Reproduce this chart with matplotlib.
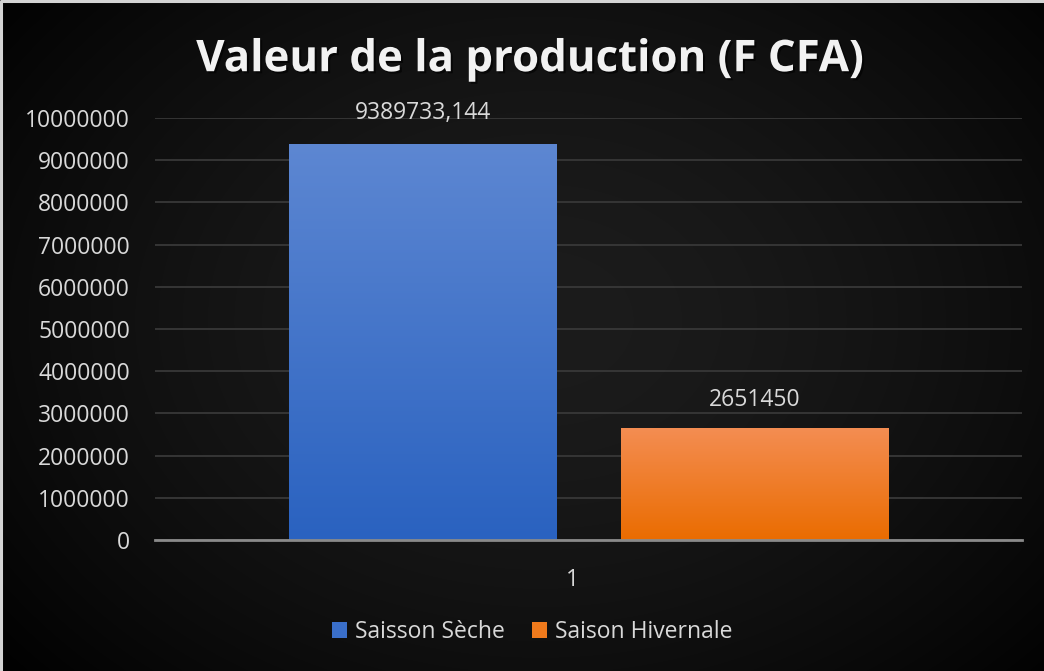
import numpy as np
import matplotlib
matplotlib.use("Agg")
import matplotlib.pyplot as plt
import matplotlib.patheffects as pe
from matplotlib.colors import LinearSegmentedColormap
from matplotlib.transforms import ScaledTranslation

# data
categories = ["1"]
series_names = ["Saisson Sèche", "Saison Hivernale"]
values = [9389733.144, 2651450]
value_labels = ["9389733,144", "2651450"]
y_ticks = [0, 1000000, 2000000, 3000000, 4000000, 5000000,
           6000000, 7000000, 8000000, 9000000, 10000000]

grad_colors = [("#2a62c0", "#5d87d2"), ("#ea6c00", "#f48d52")]
flat_colors = ["#3a6fca", "#f07a1c"]
label_offsets = [22.5, 20]

plt.rcParams['font.family'] = ['Open Sans', 'DejaVu Sans']

fig = plt.figure(figsize=(10.44, 6.71), dpi=100)

# radial background
bg = fig.add_axes([0, 0, 1, 1], zorder=-10)
yy, xx = np.mgrid[0:671, 0:1044]
r = np.sqrt(((xx - 540) / 640.0) ** 2 + ((yy - 320) / 480.0) ** 2)
shade = np.clip(0.11 - 0.09 * r ** 1.6, 0.0, 1.0)
bg.imshow(np.dstack([shade, shade, shade]), aspect="auto", extent=[0, 1, 0, 1])
bg.set_xlim(0, 1)
bg.set_ylim(0, 1)
# light frame on the top and left edges
bg.plot([0.001, 0.001, 1], [0, 0.998, 0.998], color="#d4d4d4", linewidth=2.2)
bg.set_axis_off()

ax = fig.add_axes([0.1485, 0.1952, 0.8305, 0.6289])
ax.patch.set_alpha(0)

x = np.arange(len(categories)) + 1
width = 0.309
offsets = [-0.1915, 0.1915]
handles = []
for i, name in enumerate(series_names):
    bars = ax.bar(x + offsets[i], [values[i]], width, color=flat_colors[i],
                  label=name, zorder=3)
    handles.append(bars)
    cmap = LinearSegmentedColormap.from_list("g%d" % i, grad_colors[i])
    for b in bars:
        x0, y0 = b.get_x(), b.get_y()
        im = ax.imshow(np.linspace(0, 1, 256).reshape(-1, 1), cmap=cmap,
                       aspect="auto", origin="lower",
                       extent=[x0, x0 + b.get_width(), y0, y0 + b.get_height()],
                       zorder=4)
        im.set_clip_path(b)
        ax.annotate(value_labels[i], (x0 + b.get_width() / 2, b.get_height()),
                    xytext=(0, label_offsets[i]), textcoords="offset points",
                    ha="center", va="center", color="#d9d9d9", fontsize=16.5)

ax.set_xlim(0.5, 1.5)
ax.set_ylim(0, 10000000)
ax.set_yticks(y_ticks)
ax.set_yticklabels([str(t) for t in y_ticks])
ax.set_xticks(x)
ax.set_xticklabels(categories)
ax.tick_params(axis="both", length=0, colors="#d9d9d9", labelsize=16.5)
ax.tick_params(axis="y", pad=18)
ax.tick_params(axis="x", pad=20)
for lbl in ax.get_xticklabels():
    lbl.set_transform(lbl.get_transform() +
                      ScaledTranslation(-0.16, 0, fig.dpi_scale_trans))
ax.grid(axis="y", color="#383838", linewidth=1.3, zorder=0)
for s in ["top", "right", "left"]:
    ax.spines[s].set_visible(False)
ax.spines["bottom"].set_color("#8a8a8a")
ax.spines["bottom"].set_linewidth(2)
ax.spines["bottom"].set_zorder(5)

fig.text(0.507, 0.911, "Valeur de la production (F CFA)", ha="center",
         va="center", color="#f2f2f2", fontsize=31.5, fontweight="bold",
         path_effects=[pe.withSimplePatchShadow(offset=(1.5, -1.5),
                                                 shadow_rgbFace="#000000",
                                                 alpha=0.6)])

fig.legend(handles=handles, loc="center", bbox_to_anchor=(0.51, 0.058),
           ncol=2, frameon=False, fontsize=16.5, labelcolor="#d9d9d9",
           handlelength=0.65, handleheight=0.65, handletextpad=0.35,
           columnspacing=1.2)

fig.savefig("out.png", dpi=100)
